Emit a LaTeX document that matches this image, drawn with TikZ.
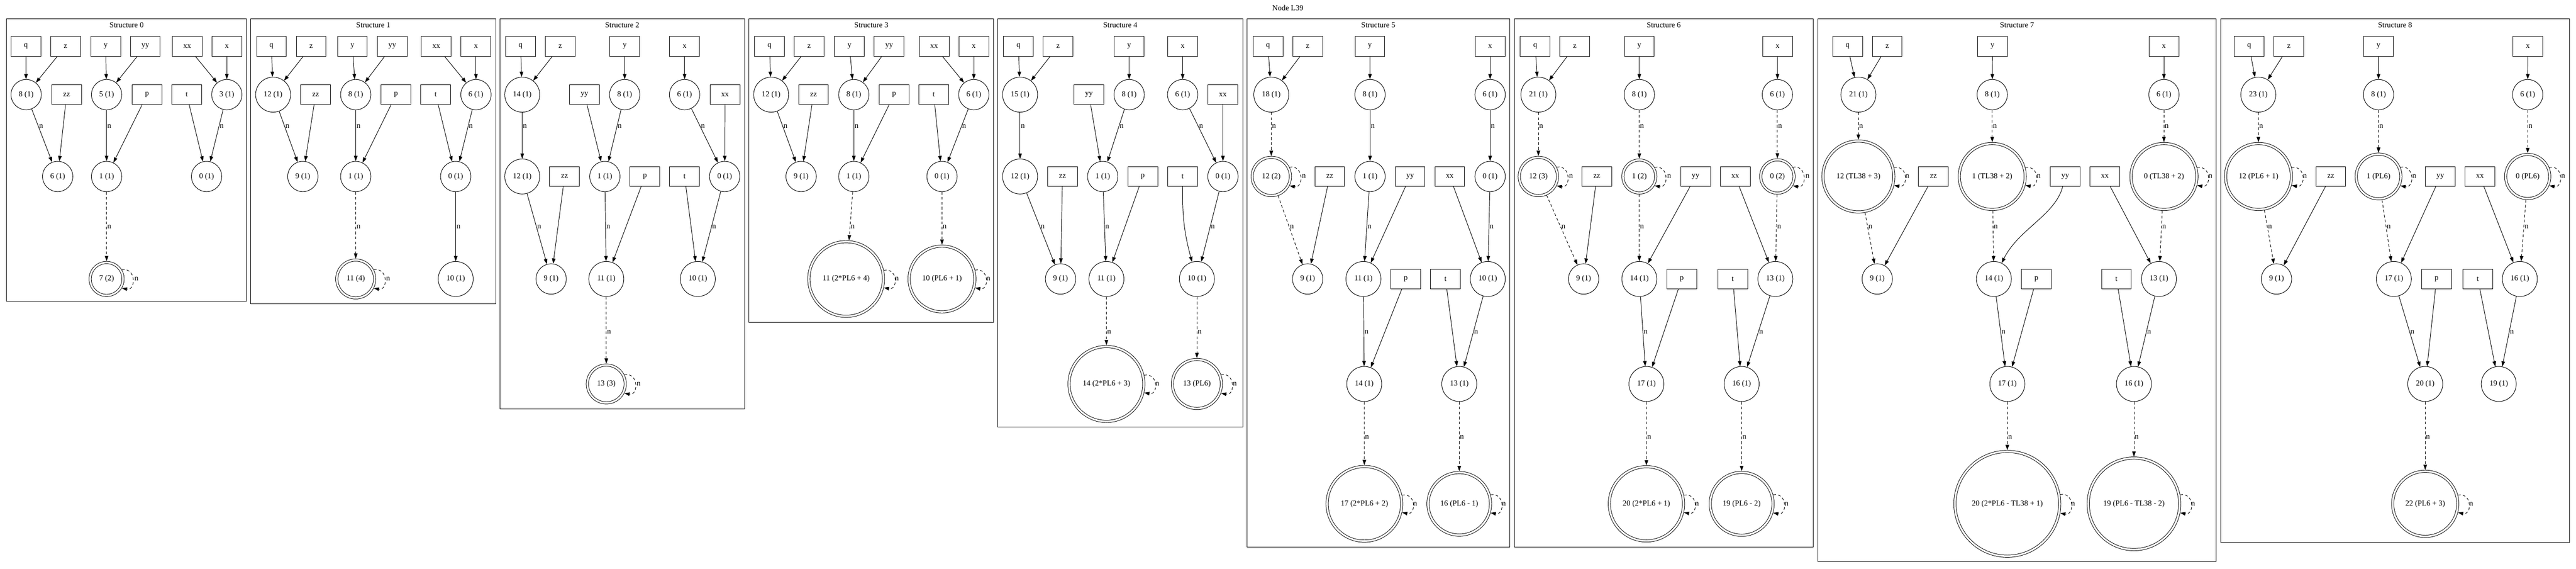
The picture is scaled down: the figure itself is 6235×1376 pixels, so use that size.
\documentclass[tikz,border=0pt]{standalone}
\usepackage{fontspec}
\setmainfont{Liberation Serif}
\usetikzlibrary{arrows.meta,calc}

\tikzset{
  varbox/.style={draw, rectangle, minimum width=54pt, minimum height=36pt, inner sep=0pt},
  cnode/.style={draw, circle, minimum size=#1, inner sep=0pt},
  cnode/.default=55pt,
  fnode/.style={draw, circle, double, double distance=3.2pt, minimum size=#1, inner sep=0pt, outer sep=2.5pt},
  tr/.style={-{Triangle[length=9.5pt,width=6.5pt]}},
  dsh/.style={dash pattern=on 5pt off 4pt},
  elab/.style={anchor=west, inner sep=1pt},
  cluster/.style={draw, line width=0.8pt}
}
% edge with an "n" label, and a self loop with an "n" label
\newcommand{\nlink}[4][]{\draw[tr,#1] (#2) -- (#3); \node[elab] at ($(#2.center)!#4!(#3.center)$) {n};}
\newcommand{\nloop}[2]{\draw[tr,dsh] (#1.#2) .. controls +(26pt,5pt) and +(26pt,-5pt) .. (#1.-#2); \node[elab] at ([xshift=17pt]#1.east) {n};}

\begin{document}
\begin{tikzpicture}[x=0.75pt, y=-0.75pt, line width=0.9pt, font=\fontsize{14pt}{16pt}\selectfont]

        \useasboundingbox (0,0) rectangle (6235,1376);
        \node (title) at (3117,19) {Node L39};

        % cluster frames
        \draw[cluster] (16,46) rectangle (597,729);
        \node at (306.5,61) {Structure 0};
        \draw[cluster] (607,46) rectangle (1200,735);
        \node at (903.5,61) {Structure 1};
        \draw[cluster] (1210,46) rectangle (1802,989);
        \node at (1506,61) {Structure 2};
        \draw[cluster] (1813,46) rectangle (2405,780);
        \node at (2109,61) {Structure 3};
        \draw[cluster] (2415,46) rectangle (3008,1033);
        \node at (2711.5,61) {Structure 4};
        \draw[cluster] (3018,46) rectangle (3654,1323);
        \node at (3336,61) {Structure 5};
        \draw[cluster] (3665,46) rectangle (4389,1323);
        \node at (4027,61) {Structure 6};
        \draw[cluster] (4400,46) rectangle (5364,1358);
        \node at (4882,61) {Structure 7};
        \draw[cluster] (5375,46) rectangle (6219,1312);
        \node at (5797,61) {Structure 8};

        % structure 0
        \node[varbox] (s0q) at (62.5,112) {q};
        \node[varbox] (s0z) at (158.6,112) {z};
        \node[varbox] (s0y) at (255.8,112) {y};
        \node[varbox] (s0yy) at (351.7,112) {yy};
        \node[varbox] (s0xx) at (453,112) {xx};
        \node[varbox] (s0x) at (549,112) {x};
        \node[cnode] (s0n8) at (63.3,229) {8 (1)};
        \node[varbox] (s0zz) at (161.3,229) {zz};
        \node[cnode] (s0n5) at (258,229) {5 (1)};
        \node[varbox] (s0p) at (356,229) {p};
        \node[varbox] (s0t) at (452,229) {t};
        \node[cnode] (s0n3) at (549,229) {3 (1)};
        \node[cnode] (s0n6) at (139.6,427) {6 (1)};
        \node[cnode] (s0n1) at (258,427) {1 (1)};
        \node[cnode] (s0n0) at (500,427) {0 (1)};
        \node[fnode=59.7pt] (s0n7) at (258,675) {7 (2)};
        \draw[tr] (s0q) -- (s0n8);
        \draw[tr] (s0z) -- (s0n8);
        \draw[tr] (s0y) -- (s0n5);
        \draw[tr] (s0yy) -- (s0n5);
        \draw[tr] (s0xx) -- (s0n3);
        \draw[tr] (s0x) -- (s0n3);
        \nlink{s0n8}{s0n6}{.389}
        \draw[tr] (s0zz) -- (s0n6);
        \nlink{s0n5}{s0n1}{.389}
        \draw[tr] (s0p) -- (s0n1);
        \draw[tr] (s0t) -- (s0n0);
        \nlink{s0n3}{s0n0}{.389}
        \nlink[dsh]{s0n1}{s0n7}{.492}
        \nloop{s0n7}{31}

        % structure 1
        \node[varbox] (s1q) at (657,112) {q};
        \node[varbox] (s1z) at (753,112) {z};
        \node[varbox] (s1y) at (853,112) {y};
        \node[varbox] (s1yy) at (949.4,112) {yy};
        \node[varbox] (s1xx) at (1056,112) {xx};
        \node[varbox] (s1x) at (1152,112) {x};
        \node[cnode=63.5pt] (s1n12) at (661,229) {12 (1)};
        \node[varbox] (s1zz) at (764,229) {zz};
        \node[cnode] (s1n8) at (861,229) {8 (1)};
        \node[varbox] (s1p) at (958.6,229) {p};
        \node[varbox] (s1t) at (1054.7,229) {t};
        \node[cnode] (s1n6) at (1152,229) {6 (1)};
        \node[cnode] (s1n9) at (733,427) {9 (1)};
        \node[cnode] (s1n1) at (861,427) {1 (1)};
        \node[cnode] (s1n0) at (1103,427) {0 (1)};
        \node[fnode=68.7pt] (s1n11) at (861,675) {11 (4)};
        \node[cnode=63.5pt] (s1n10) at (1103,675) {10 (1)};
        \draw[tr] (s1q) -- (s1n12);
        \draw[tr] (s1z) -- (s1n12);
        \draw[tr] (s1y) -- (s1n8);
        \draw[tr] (s1yy) -- (s1n8);
        \draw[tr] (s1xx) -- (s1n6);
        \draw[tr] (s1x) -- (s1n6);
        \nlink{s1n12}{s1n9}{.389}
        \draw[tr] (s1zz) -- (s1n9);
        \nlink{s1n8}{s1n1}{.389}
        \draw[tr] (s1p) -- (s1n1);
        \draw[tr] (s1t) -- (s1n0);
        \nlink{s1n6}{s1n0}{.389}
        \nlink[dsh]{s1n1}{s1n11}{.492}
        \nloop{s1n11}{27}
        \nlink{s1n0}{s1n10}{.492}

        % structure 2
        \node[varbox] (s2q) at (1260,112) {q};
        \node[varbox] (s2z) at (1356,112) {z};
        \node[varbox] (s2y) at (1512,112) {y};
        \node[varbox] (s2x) at (1657,112) {x};
        \node[cnode=63.5pt] (s2n14) at (1264,229) {14 (1)};
        \node[varbox] (s2yy) at (1414.7,229) {yy};
        \node[cnode] (s2n8) at (1512,229) {8 (1)};
        \node[cnode] (s2n6) at (1657,229) {6 (1)};
        \node[varbox] (s2xx) at (1754.8,229) {xx};
        \node[cnode=63.5pt] (s2n12) at (1264,427) {12 (1)};
        \node[varbox] (s2zz) at (1366.5,427) {zz};
        \node[cnode] (s2n1) at (1464,427) {1 (1)};
        \node[varbox] (s2p) at (1561,427) {p};
        \node[varbox] (s2t) at (1657,427) {t};
        \node[cnode] (s2n0) at (1754,427) {0 (1)};
        \node[cnode] (s2n9) at (1334,675) {9 (1)};
        \node[cnode=63.5pt] (s2n11) at (1467.5,675) {11 (1)};
        \node[cnode=63.5pt] (s2n10) at (1689,675) {10 (1)};
        \node[fnode=68.7pt] (s2n13) at (1467.5,929) {13 (3)};
        \draw[tr] (s2q) -- (s2n14);
        \draw[tr] (s2z) -- (s2n14);
        \draw[tr] (s2y) -- (s2n8);
        \draw[tr] (s2x) -- (s2n6);
        \nlink{s2n14}{s2n12}{.389}
        \draw[tr] (s2yy) -- (s2n1);
        \nlink{s2n8}{s2n1}{.389}
        \nlink{s2n6}{s2n0}{.389}
        \draw[tr] (s2xx) -- (s2n0);
        \nlink{s2n12}{s2n9}{.492}
        \draw[tr] (s2zz) -- (s2n9);
        \nlink{s2n1}{s2n11}{.492}
        \draw[tr] (s2p) -- (s2n11);
        \draw[tr] (s2t) -- (s2n10);
        \nlink{s2n0}{s2n10}{.492}
        \nlink[dsh]{s2n11}{s2n13}{.504}
        \nloop{s2n13}{27}

        % structure 3
        \node[varbox] (s3q) at (1862.5,112) {q};
        \node[varbox] (s3z) at (1958.4,112) {z};
        \node[varbox] (s3y) at (2056,112) {y};
        \node[varbox] (s3yy) at (2152,112) {yy};
        \node[varbox] (s3xx) at (2261,112) {xx};
        \node[varbox] (s3x) at (2357,112) {x};
        \node[cnode=63.5pt] (s3n12) at (1866.5,229) {12 (1)};
        \node[varbox] (s3zz) at (1969,229) {zz};
        \node[cnode] (s3n8) at (2066.6,229) {8 (1)};
        \node[varbox] (s3p) at (2164,229) {p};
        \node[varbox] (s3t) at (2260,229) {t};
        \node[cnode] (s3n6) at (2357,229) {6 (1)};
        \node[cnode] (s3n9) at (1939,427) {9 (1)};
        \node[cnode] (s3n1) at (2066.6,427) {1 (1)};
        \node[cnode] (s3n0) at (2280,427) {0 (1)};
        \node[fnode=135.4pt] (s3n11) at (2048,675) {11 (2*PL6 + 4)};
        \node[fnode=119.3pt] (s3n10) at (2280,675) {10 (PL6 + 1)};
        \draw[tr] (s3q) -- (s3n12);
        \draw[tr] (s3z) -- (s3n12);
        \draw[tr] (s3y) -- (s3n8);
        \draw[tr] (s3yy) -- (s3n8);
        \draw[tr] (s3xx) -- (s3n6);
        \draw[tr] (s3x) -- (s3n6);
        \nlink{s3n12}{s3n9}{.389}
        \draw[tr] (s3zz) -- (s3n9);
        \nlink{s3n8}{s3n1}{.389}
        \draw[tr] (s3p) -- (s3n1);
        \draw[tr] (s3t) -- (s3n0);
        \nlink{s3n6}{s3n0}{.389}
        \nlink[dsh]{s3n1}{s3n11}{.492}
        \nloop{s3n11}{13.7}
        \nlink[dsh]{s3n0}{s3n10}{.492}
        \nloop{s3n10}{15.5}

        % structure 4
        \node[varbox] (s4q) at (2465,112) {q};
        \node[varbox] (s4z) at (2561,112) {z};
        \node[varbox] (s4y) at (2733,112) {y};
        \node[varbox] (s4x) at (2862.5,112) {x};
        \node[cnode=63.5pt] (s4n15) at (2469,229) {15 (1)};
        \node[varbox] (s4yy) at (2635.7,229) {yy};
        \node[cnode] (s4n8) at (2733,229) {8 (1)};
        \node[cnode] (s4n6) at (2862.5,229) {6 (1)};
        \node[varbox] (s4xx) at (2960,229) {xx};
        \node[cnode=63.5pt] (s4n12) at (2469,427) {12 (1)};
        \node[varbox] (s4zz) at (2571.6,427) {zz};
        \node[cnode] (s4n1) at (2669,427) {1 (1)};
        \node[varbox] (s4p) at (2766,427) {p};
        \node[varbox] (s4t) at (2862.5,427) {t};
        \node[cnode] (s4n0) at (2960,427) {0 (1)};
        \node[cnode] (s4n9) at (2567,675) {9 (1)};
        \node[cnode=63.5pt] (s4n11) at (2678,675) {11 (1)};
        \node[cnode=63.5pt] (s4n10) at (2897,675) {10 (1)};
        \node[fnode=135.8pt] (s4n14) at (2678,929) {14 (2*PL6 + 3)};
        \node[fnode=88.9pt] (s4n13) at (2897,929) {13 (PL6)};
        \draw[tr] (s4q) -- (s4n15);
        \draw[tr] (s4z) -- (s4n15);
        \draw[tr] (s4y) -- (s4n8);
        \draw[tr] (s4x) -- (s4n6);
        \nlink{s4n15}{s4n12}{.389}
        \draw[tr] (s4yy) -- (s4n1);
        \nlink{s4n8}{s4n1}{.389}
        \nlink{s4n6}{s4n0}{.389}
        \draw[tr] (s4xx) -- (s4n0);
        \nlink{s4n12}{s4n9}{.492}
        \draw[tr] (s4zz) -- (s4n9);
        \nlink{s4n1}{s4n11}{.492}
        \draw[tr] (s4p) -- (s4n11);
        \draw[tr] (s4t) to[bend right=8] (s4n10);
        \nlink{s4n0}{s4n10}{.492}
        \nlink[dsh]{s4n11}{s4n14}{.504}
        \nloop{s4n14}{13.7}
        \nlink[dsh]{s4n10}{s4n13}{.504}
        \nloop{s4n13}{21}

        % structure 5
        \node[varbox] (s5q) at (3069,112) {q};
        \node[varbox] (s5z) at (3165,112) {z};
        \node[varbox] (s5y) at (3315.7,112) {y};
        \node[varbox] (s5x) at (3606.7,112) {x};
        \node[cnode=63.5pt] (s5n18) at (3077,229) {18 (1)};
        \node[cnode] (s5n8) at (3316,229) {8 (1)};
        \node[cnode] (s5n6) at (3606.7,229) {6 (1)};
        \node[fnode=69.4pt] (s5n12) at (3077,427) {12 (2)};
        \node[varbox] (s5zz) at (3218.5,427) {zz};
        \node[cnode] (s5n1) at (3316,427) {1 (1)};
        \node[varbox] (s5yy) at (3413,427) {yy};
        \node[varbox] (s5xx) at (3509,427) {xx};
        \node[cnode] (s5n0) at (3606.7,427) {0 (1)};
        \node[cnode] (s5n9) at (3165,675) {9 (1)};
        \node[cnode=63.5pt] (s5n11) at (3300,675) {11 (1)};
        \node[varbox] (s5p) at (3402.6,675) {p};
        \node[varbox] (s5t) at (3498.6,675) {t};
        \node[cnode=63.5pt] (s5n10) at (3601,675) {10 (1)};
        \node[cnode=63.5pt] (s5n14) at (3302,929) {14 (1)};
        \node[cnode=63.5pt] (s5n13) at (3532,929) {13 (1)};
        \node[fnode=135.4pt] (s5n17) at (3302.4,1219) {17 (2*PL6 + 2)};
        \node[fnode=113.4pt] (s5n16) at (3532,1219) {16 (PL6 - 1)};
        \draw[tr] (s5q) -- (s5n18);
        \draw[tr] (s5z) -- (s5n18);
        \draw[tr] (s5y) -- (s5n8);
        \draw[tr] (s5x) -- (s5n6);
        \nlink[dsh]{s5n18}{s5n12}{.389}
        \nloop{s5n12}{27}
        \nlink{s5n8}{s5n1}{.389}
        \nlink{s5n6}{s5n0}{.389}
        \nlink[dsh]{s5n12}{s5n9}{.492}
        \draw[tr] (s5zz) -- (s5n9);
        \nlink{s5n1}{s5n11}{.492}
        \draw[tr] (s5yy) -- (s5n11);
        \draw[tr] (s5xx) -- (s5n10);
        \nlink{s5n0}{s5n10}{.492}
        \nlink{s5n11}{s5n14}{.504}
        \draw[tr] (s5p) -- (s5n14);
        \draw[tr] (s5t) -- (s5n13);
        \nlink{s5n10}{s5n13}{.504}
        \nlink[dsh]{s5n14}{s5n17}{.441}
        \nloop{s5n17}{13.7}
        \nlink[dsh]{s5n13}{s5n16}{.441}
        \nloop{s5n16}{16}

        % structure 6
        \node[varbox] (s6q) at (3715.7,112) {q};
        \node[varbox] (s6z) at (3811.7,112) {z};
        \node[varbox] (s6y) at (3967.8,112) {y};
        \node[varbox] (s6x) at (4302.5,112) {x};
        \node[cnode=63.5pt] (s6n21) at (3723.5,229) {21 (1)};
        \node[cnode] (s6n8) at (3967.8,229) {8 (1)};
        \node[cnode] (s6n6) at (4302,229) {6 (1)};
        \node[fnode=69.4pt] (s6n12) at (3723.5,427) {12 (3)};
        \node[varbox] (s6zz) at (3865,427) {zz};
        \node[fnode=59.7pt] (s6n1) at (3967.8,427) {1 (2)};
        \node[varbox] (s6yy) at (4104,427) {yy};
        \node[varbox] (s6xx) at (4200,427) {xx};
        \node[fnode=60.4pt] (s6n0) at (4302,427) {0 (2)};
        \node[cnode] (s6n9) at (3833,675) {9 (1)};
        \node[cnode=63.5pt] (s6n14) at (3967.8,675) {14 (1)};
        \node[varbox] (s6p) at (4070.5,675) {p};
        \node[varbox] (s6t) at (4194,675) {t};
        \node[cnode=63.5pt] (s6n13) at (4297,675) {13 (1)};
        \node[cnode=63.5pt] (s6n17) at (3985,929) {17 (1)};
        \node[cnode=63.5pt] (s6n16) at (4215.5,929) {16 (1)};
        \node[fnode=134.6pt] (s6n20) at (3985,1219) {20 (2*PL6 + 1)};
        \node[fnode=114pt] (s6n19) at (4215.5,1219) {19 (PL6 - 2)};
        \draw[tr] (s6q) -- (s6n21);
        \draw[tr] (s6z) -- (s6n21);
        \draw[tr] (s6y) -- (s6n8);
        \draw[tr] (s6x) -- (s6n6);
        \nlink[dsh]{s6n21}{s6n12}{.389}
        \nloop{s6n12}{27}
        \nlink[dsh]{s6n8}{s6n1}{.389}
        \nloop{s6n1}{31}
        \nlink[dsh]{s6n6}{s6n0}{.389}
        \nloop{s6n0}{31}
        \nlink[dsh]{s6n12}{s6n9}{.492}
        \draw[tr] (s6zz) -- (s6n9);
        \nlink[dsh]{s6n1}{s6n14}{.492}
        \draw[tr] (s6yy) -- (s6n14);
        \draw[tr] (s6xx) -- (s6n13);
        \nlink[dsh]{s6n0}{s6n13}{.492}
        \nlink{s6n14}{s6n17}{.504}
        \draw[tr] (s6p) -- (s6n17);
        \draw[tr] (s6t) -- (s6n16);
        \nlink{s6n13}{s6n16}{.504}
        \nlink[dsh]{s6n17}{s6n20}{.441}
        \nloop{s6n20}{13.7}
        \nlink[dsh]{s6n16}{s6n19}{.441}
        \nloop{s6n19}{16}

        % structure 7
        \node[varbox] (s7q) at (4471.9,112) {q};
        \node[varbox] (s7z) at (4567.8,112) {z};
        \node[varbox] (s7y) at (4822.6,112) {y};
        \node[varbox] (s7x) at (5237.6,112) {x};
        \node[cnode=63.5pt] (s7n21) at (4498,229) {21 (1)};
        \node[cnode] (s7n8) at (4822,229) {8 (1)};
        \node[cnode] (s7n6) at (5237.6,229) {6 (1)};
        \node[fnode=128.6pt] (s7n12) at (4498,427) {12 (TL38 + 3)};
        \node[varbox] (s7zz) at (4679.7,427) {zz};
        \node[fnode=119.6pt] (s7n1) at (4822,427) {1 (TL38 + 2)};
        \node[varbox] (s7yy) at (4998.7,427) {yy};
        \node[varbox] (s7xx) at (5094.7,427) {xx};
        \node[fnode=119.6pt] (s7n0) at (5237.6,427) {0 (TL38 + 2)};
        \node[cnode] (s7n9) at (4543.7,675) {9 (1)};
        \node[cnode=63.5pt] (s7n14) at (4826,675) {14 (1)};
        \node[varbox] (s7p) at (4929,675) {p};
        \node[varbox] (s7t) at (5122.7,675) {t};
        \node[cnode=63.5pt] (s7n13) at (5225.5,675) {13 (1)};
        \node[cnode=63.5pt] (s7n17) at (4858.5,929) {17 (1)};
        \node[cnode=63.5pt] (s7n16) at (5165,929) {16 (1)};
        \node[fnode=190.1pt] (s7n20) at (4858.5,1219) {20 (2*PL6 - TL38 + 1)};
        \node[fnode=166.1pt] (s7n19) at (5165,1219) {19 (PL6 - TL38 - 2)};
        \draw[tr] (s7q) -- (s7n21);
        \draw[tr] (s7z) -- (s7n21);
        \draw[tr] (s7y) -- (s7n8);
        \draw[tr] (s7x) -- (s7n6);
        \nlink[dsh]{s7n21}{s7n12}{.389}
        \nloop{s7n12}{14.5}
        \nlink[dsh]{s7n8}{s7n1}{.389}
        \nloop{s7n1}{15.5}
        \nlink[dsh]{s7n6}{s7n0}{.389}
        \nloop{s7n0}{15.5}
        \nlink[dsh]{s7n12}{s7n9}{.492}
        \draw[tr] (s7zz) -- (s7n9);
        \nlink[dsh]{s7n1}{s7n14}{.492}
        \draw[tr] (s7yy) .. controls (4975,520) and (4885,555) .. (s7n14);
        \draw[tr] (s7xx) -- (s7n13);
        \nlink[dsh]{s7n0}{s7n13}{.492}
        \nlink{s7n14}{s7n17}{.504}
        \draw[tr] (s7p) -- (s7n17);
        \draw[tr] (s7t) -- (s7n16);
        \nlink{s7n13}{s7n16}{.504}
        \nlink[dsh]{s7n17}{s7n20}{.441}
        \nloop{s7n20}{10}
        \nlink[dsh]{s7n16}{s7n19}{.441}
        \nloop{s7n19}{11}

        % structure 8
        \node[varbox] (s8q) at (5443.7,112) {q};
        \node[varbox] (s8z) at (5539.9,112) {z};
        \node[varbox] (s8y) at (5756.9,112) {y};
        \node[varbox] (s8x) at (6118.6,112) {x};
        \node[cnode=63.5pt] (s8n23) at (5466,229) {23 (1)};
        \node[cnode] (s8n8) at (5757,229) {8 (1)};
        \node[cnode] (s8n6) at (6118,229) {6 (1)};
        \node[fnode=119.6pt] (s8n12) at (5466.5,427) {12 (PL6 + 1)};
        \node[varbox] (s8zz) at (5641.4,427) {zz};
        \node[fnode=81.1pt] (s8n1) at (5757,427) {1 (PL6)};
        \node[varbox] (s8yy) at (5906.6,427) {yy};
        \node[varbox] (s8xx) at (6002.5,427) {xx};
        \node[fnode=80pt] (s8n0) at (6118,427) {0 (PL6)};
        \node[cnode] (s8n9) at (5510,675) {9 (1)};
        \node[cnode=63.5pt] (s8n17) at (5794,675) {17 (1)};
        \node[varbox] (s8p) at (5897.4,675) {p};
        \node[varbox] (s8t) at (5997.4,675) {t};
        \node[cnode=63.5pt] (s8n16) at (6099,675) {16 (1)};
        \node[cnode=63.5pt] (s8n20) at (5870,929) {20 (1)};
        \node[cnode=63.5pt] (s8n19) at (6048,929) {19 (1)};
        \node[fnode=118.1pt] (s8n22) at (5870,1219) {22 (PL6 + 3)};
        \draw[tr] (s8q) -- (s8n23);
        \draw[tr] (s8z) -- (s8n23);
        \draw[tr] (s8y) -- (s8n8);
        \draw[tr] (s8x) -- (s8n6);
        \nlink[dsh]{s8n23}{s8n12}{.389}
        \nloop{s8n12}{15.5}
        \nlink[dsh]{s8n8}{s8n1}{.389}
        \nloop{s8n1}{23}
        \nlink[dsh]{s8n6}{s8n0}{.389}
        \nloop{s8n0}{23}
        \nlink[dsh]{s8n12}{s8n9}{.492}
        \draw[tr] (s8zz) -- (s8n9);
        \nlink[dsh]{s8n1}{s8n17}{.492}
        \draw[tr] (s8yy) -- (s8n17);
        \draw[tr] (s8xx) -- (s8n16);
        \nlink[dsh]{s8n0}{s8n16}{.492}
        \nlink{s8n17}{s8n20}{.504}
        \draw[tr] (s8p) -- (s8n20);
        \draw[tr] (s8t) -- (s8n19);
        \nlink{s8n16}{s8n19}{.504}
        \nlink[dsh]{s8n20}{s8n22}{.441}
        \nloop{s8n22}{15.5}

    \end{tikzpicture}
\end{document}
